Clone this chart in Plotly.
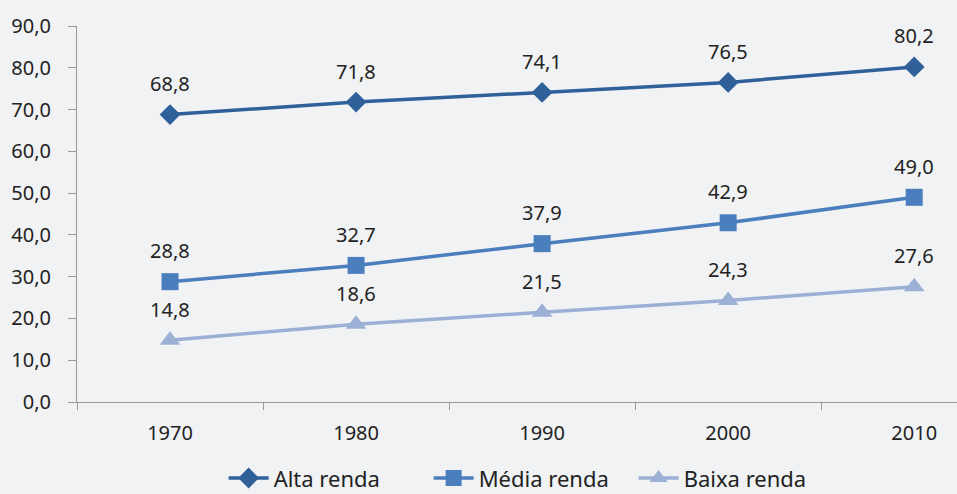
import plotly.graph_objects as go

years = ["1970", "1980", "1990", "2000", "2010"]
alta = [68.8, 71.8, 74.1, 76.5, 80.2]
media = [28.8, 32.7, 37.9, 42.9, 49.0]
baixa = [14.8, 18.6, 21.5, 24.3, 27.6]
y_ticks = [0, 10, 20, 30, 40, 50, 60, 70, 80, 90]

series = [
    ("Alta renda", alta, "#2f609a", "diamond", 16),
    ("Média renda", media, "#4a7ebd", "square", 17),
    ("Baixa renda", baixa, "#9bb0d4", "triangle-up", 18),
]

FONT = "Noto Sans"
FS = 20
fig = go.Figure()
xs = list(range(len(years)))
annotations = []
for name, vals, color, sym, sz in series:
    fig.add_trace(go.Scatter(
        x=xs, y=vals, name=name, mode="lines+markers",
        line=dict(color=color, width=3.5),
        marker=dict(symbol=sym, size=sz, color=color),
    ))
    for xi, v in zip(xs, vals):
        annotations.append(dict(
            x=xi, y=v, xref="x", yref="y", text=f"{v:.1f}".replace(".", ","),
            showarrow=False, yshift=31, font=dict(family=FONT, size=FS, color="#222222"),
        ))

fig.update_layout(
    width=957, height=494,
    paper_bgcolor="#f1f2f4", plot_bgcolor="#f1f2f4",
    margin=dict(l=77, r=0, t=26, b=92),
    font=dict(family=FONT, size=FS, color="#222222"),
    annotations=annotations,
    showlegend=True,
    legend=dict(orientation="h", x=0.555, xanchor="center", xref="container",
                y=0.032, yanchor="middle", yref="container",
                font=dict(family=FONT, size=22, color="#222222"), bgcolor="rgba(0,0,0,0)",
                itemwidth=40, entrywidth=150),
    xaxis=dict(
        range=[-0.5, 4.23], tickmode="array", tickvals=xs, ticktext=years,
        ticks="", showgrid=False, zeroline=False, showline=True, linecolor="#999999", linewidth=1,
        minor=dict(tick0=0.5, dtick=1, ticks="outside", ticklen=7, tickcolor="#999999", showgrid=False),
        tickfont=dict(family=FONT, size=FS, color="#222222"), ticklabelstandoff=13,
    ),
    yaxis=dict(
        range=[0, 90], tickmode="array", tickvals=y_ticks,
        ticktext=[f"{v:.1f}".replace(".", ",") for v in y_ticks],
        ticks="outside", ticklen=8, tickcolor="#999999", showgrid=False, zeroline=False,
        showline=True, linecolor="#999999", linewidth=1,
        tickfont=dict(family=FONT, size=FS, color="#222222"), ticklabelstandoff=13,
    ),
)
fig.write_html("out.html", config={"displayModeBar": False},
               post_script="document.body.style.margin='0';document.body.style.background='#f1f2f4';")
